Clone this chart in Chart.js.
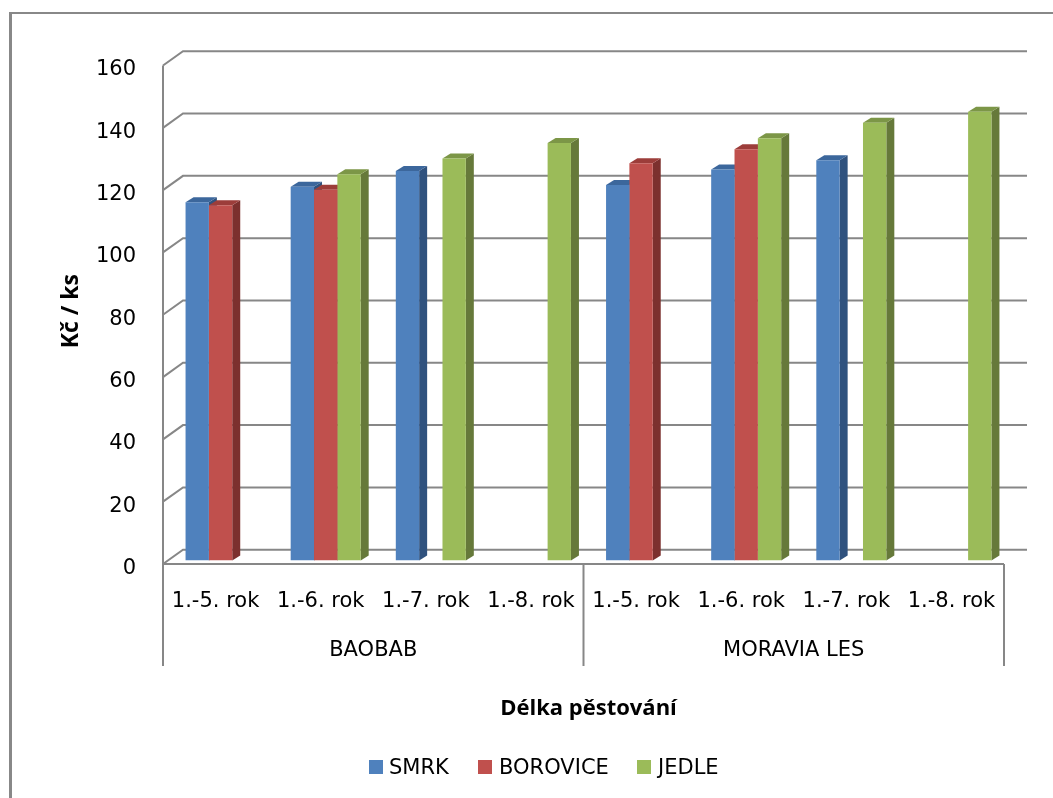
<!DOCTYPE html>
<html>
<head>
<meta charset="utf-8">
<script src="https://cdn.jsdelivr.net/npm/chart.js@4.4.1/dist/chart.umd.min.js"></script>
<style>
  html, body { margin: 0; padding: 0; background: #ffffff; }
  #wrap { position: relative; width: 1053px; height: 798px; overflow: hidden; }
  canvas { position: absolute; left: 0; top: 0; }
  .lg { position: absolute; top: 756px; height: 22px; font-family: 'DejaVu Sans', sans-serif; font-size: 21px; line-height: 22px; color: #000; white-space: nowrap; }
  .sw { position: absolute; top: 760px; width: 14px; height: 14px; }
</style>
</head>
<body>
<div id="wrap">
  <canvas id="c" width="1053" height="798"></canvas>
  <div class="sw" style="left:369px;background:#4f81bd"></div><div class="lg" style="left:389px">SMRK</div>
  <div class="sw" style="left:478px;background:#c0504d"></div><div class="lg" style="left:499px">BOROVICE</div>
  <div class="sw" style="left:637px;background:#9bbb59"></div><div class="lg" style="left:658px">JEDLE</div>
</div>
<script>
// ---- data ----
const categories = ['1.-5. rok', '1.-6. rok', '1.-7. rok', '1.-8. rok', '1.-5. rok', '1.-6. rok', '1.-7. rok', '1.-8. rok'];
const groups = ['BAOBAB', 'MORAVIA LES'];
const seriesNames = ['SMRK', 'BOROVICE', 'JEDLE'];
const smrk     = [115, 120, 125, null, 120.5, 125.5, 128.5, null];
const borovice = [114, 119, null, null, 127.5, 132, null, null];
const jedle    = [null, 124, 129, 134, null, 135.5, 140.5, 144];
const yTicks = [0, 20, 40, 60, 80, 100, 120, 140, 160];

// ---- styles ----
const FONT = "'DejaVu Sans', sans-serif";
const BOLD_FONT = "'Open Sans', sans-serif";
const colors = [
  { front: '#4f81bd', top: '#3c679c', side: '#30527e' },
  { front: '#c0504d', top: '#9c3d3a', side: '#7c302e' },
  { front: '#9bbb59', top: '#7c9647', side: '#66793a' }
];
const DX = 8, DY = 5;                  // bar depth extrusion
const FRONT_DX = -5, FRONT_DY = 3.5;   // front plane offset from bar plane
const BACK_DX = 15, BACK_DY = -10.8;   // back wall offset from bar plane
const GRID = '#878787';

const wallsPlugin = {
  id: 'walls',
  beforeDraw(chart) {
    const ctx = chart.ctx;
    ctx.save();
    ctx.fillStyle = '#ffffff';
    ctx.fillRect(0, 0, chart.width, chart.height);
    ctx.fillStyle = '#888888';
    ctx.fillRect(9, 12, 3, chart.height);
    ctx.fillRect(9, 12, chart.width, 2);
    ctx.restore();
  },
  beforeDatasetsDraw(chart) {
    const ctx = chart.ctx;
    const xs = chart.scales.x, ys = chart.scales.y;
    ctx.save();
    ctx.strokeStyle = GRID;
    ctx.lineWidth = 2;
    // back wall grid + left wall diagonals
    yTicks.forEach(v => {
      const yb = ys.getPixelForValue(v);
      ctx.beginPath();
      ctx.moveTo(xs.left + FRONT_DX, yb + FRONT_DY);
      ctx.lineTo(xs.left + BACK_DX, yb + BACK_DY);
      ctx.lineTo(xs.right + BACK_DX + 3, yb + BACK_DY);
      ctx.stroke();
    });
    const f0 = ys.getPixelForValue(0) + FRONT_DY;
    const fTop = ys.getPixelForValue(yTicks[yTicks.length - 1]) + FRONT_DY;
    const sepBottom = 666;
    const fl = xs.left + FRONT_DX, fr = xs.right + FRONT_DX, fm = (fl + fr) / 2;
    ctx.beginPath();
    ctx.moveTo(fl, fTop); ctx.lineTo(fl, sepBottom);
    ctx.moveTo(fl, f0); ctx.lineTo(fr, f0);
    ctx.moveTo(fm, f0); ctx.lineTo(fm, sepBottom);
    ctx.moveTo(fr, f0); ctx.lineTo(fr, sepBottom);
    ctx.stroke();
    // 3D extrusion faces of bars (side + top), drawn left to right
    const items = [];
    chart.data.datasets.forEach((ds, di) => {
      const meta = chart.getDatasetMeta(di);
      meta.data.forEach((el, i) => {
        if (ds.data[i] === null || ds.data[i] === undefined) return;
        items.push({ el, c: colors[di] });
      });
    });
    items.sort((a, b) => a.el.x - b.el.x);
    items.forEach(({ el, c }) => {
      const p = el.getProps(['x', 'y', 'base', 'width'], true);
      const x0 = p.x - p.width / 2, x1 = p.x + p.width / 2;
      const top = p.y, base = p.base;
      ctx.fillStyle = c.side;
      ctx.beginPath();
      ctx.moveTo(x1, top); ctx.lineTo(x1 + DX, top - DY);
      ctx.lineTo(x1 + DX, base - DY); ctx.lineTo(x1, base);
      ctx.closePath(); ctx.fill();
      ctx.fillStyle = c.top;
      ctx.beginPath();
      ctx.moveTo(x0, top); ctx.lineTo(x0 + DX, top - DY);
      ctx.lineTo(x1 + DX, top - DY); ctx.lineTo(x1, top);
      ctx.closePath(); ctx.fill();
    });
    ctx.restore();
  }
};

const seriesData = [smrk, borovice, jedle];
new Chart(document.getElementById('c'), {
  type: 'bar',
  data: {
    labels: categories,
    datasets: seriesNames.map((n, i) => ({
      label: n,
      data: seriesData[i],
      backgroundColor: colors[i].front,
      borderWidth: 0,
      barPercentage: 1,
      categoryPercentage: 0.666
    }))
  },
  options: {
    responsive: false,
    animation: false,
    events: [],
    layout: { padding: { top: 62, right: 44, bottom: 70, left: 0 } },
    plugins: { legend: { display: false }, tooltip: { enabled: false } },
    scales: {
      x: {
        type: 'category',
        position: 'bottom',
        weight: 0,
        grid: { display: false },
        border: { display: false },
        ticks: { font: { family: FONT, size: 21 }, color: '#000', padding: 20, labelOffset: -5, maxRotation: 0, autoSkip: false },
        afterFit: s => { s.height = 65; }
      },
      x2: {
        type: 'category',
        position: 'bottom',
        weight: 1,
        labels: groups,
        offset: true,
        grid: { display: false },
        border: { display: false },
        ticks: { font: { family: FONT, size: 21 }, color: '#000', padding: 4, labelOffset: -5, maxRotation: 0, autoSkip: false },
        title: { display: true, text: 'Délka pěstování', color: '#000', font: { family: BOLD_FONT, size: 22, weight: 'bold' }, padding: { top: 0, bottom: 6 } },
        afterFit: s => { s.height = 102.5; }
      },
      y: {
        min: yTicks[0],
        max: yTicks[yTicks.length - 1],
        grid: { display: false },
        border: { display: false },
        ticks: { stepSize: 20, font: { family: FONT, size: 21 }, color: '#000', padding: 24, labelOffset: 8 },
        title: { display: true, text: 'Kč / ks', color: '#000', font: { family: BOLD_FONT, size: 23, weight: 'bold' }, padding: { top: 58, bottom: 0 } },
        afterFit: s => { s.width = 168; }
      }
    }
  },
  plugins: [wallsPlugin]
});
</script>
</body>
</html>
